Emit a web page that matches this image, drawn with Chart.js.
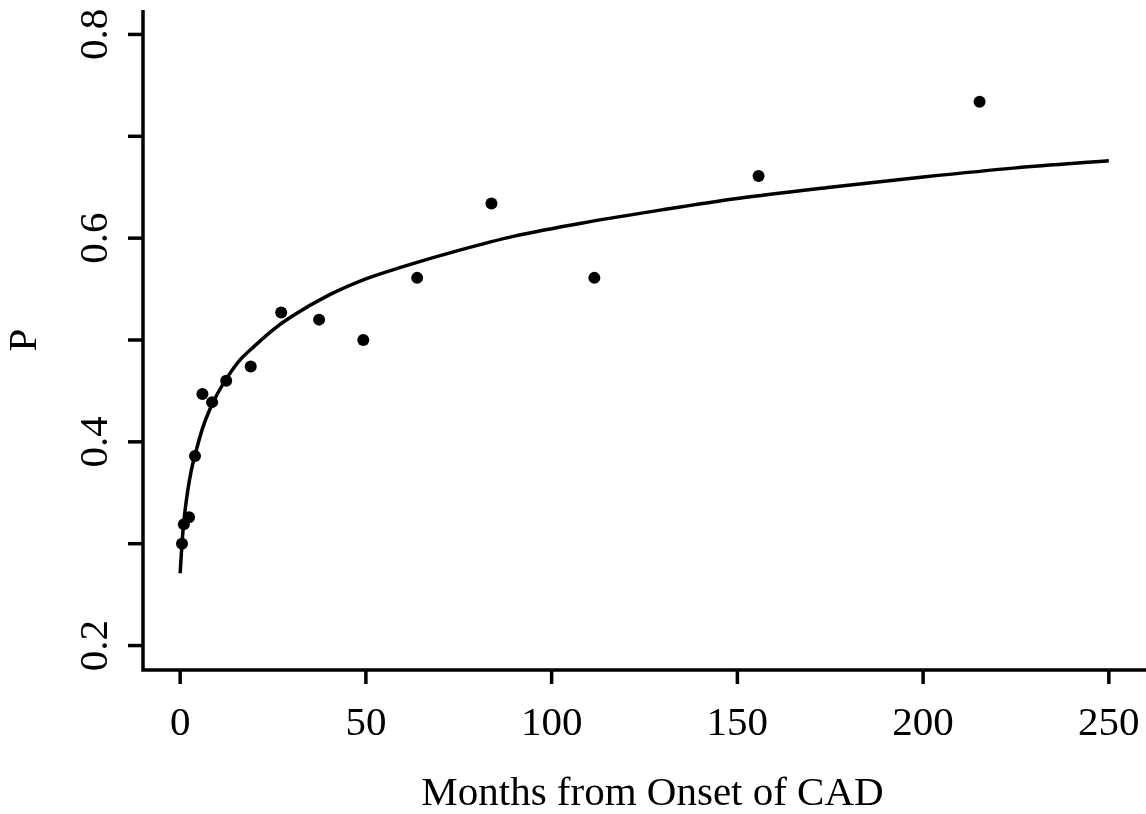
<!DOCTYPE html>
<html>
<head>
<meta charset="utf-8">
<script src="https://cdn.jsdelivr.net/npm/chart.js@4.4.1/dist/chart.umd.min.js"></script>
<style>
  html, body { margin: 0; padding: 0; background: #fff; }
  canvas { display: block; }
</style>
</head>
<body>
<canvas id="grafico" width="1146" height="814"></canvas>
<script>
// Puntos observados (meses desde el inicio, proporción P)
const mesesObs = [0.5, 1, 2.4, 4, 6, 8.6, 12.4, 19, 27.2, 37.4, 49.3, 63.8, 83.8, 111.5, 155.7, 215.2];
const pObs = [0.300, 0.319, 0.326, 0.386, 0.447, 0.439, 0.460, 0.474, 0.527, 0.520, 0.500, 0.561, 0.634, 0.561, 0.661, 0.734];

// Curva ajustada
const mesesCurva = [0, 0.5, 1, 2, 3, 4, 6, 8, 10, 13, 16, 20, 25, 30, 40, 50, 60, 75, 90, 110, 130, 150, 175, 200, 225, 250];
const pCurva = [0.271, 0.300, 0.322, 0.351, 0.372, 0.387, 0.413, 0.432, 0.447, 0.465, 0.480, 0.494, 0.510, 0.523, 0.544, 0.560, 0.572, 0.588, 0.602, 0.616, 0.628, 0.639, 0.650, 0.660, 0.669, 0.676];

// Marcas de los ejes
const ticksX = [0, 50, 100, 150, 200, 250];
const ticksY = [0.2, 0.3, 0.4, 0.5, 0.6, 0.7, 0.8];
const etiquetasY = [0.2, 0.4, 0.6, 0.8];

const fuente = '41px "Liberation Serif", "Times New Roman", serif';

// Plugin que dibuja los ejes al estilo de R
const ejesR = {
  id: 'ejesR',
  afterDraw(chart) {
    const ctx = chart.ctx;
    const sx = chart.scales.x;
    const sy = chart.scales.y;
    const area = chart.chartArea;
    ctx.save();
    ctx.strokeStyle = '#000';
    ctx.fillStyle = '#000';
    ctx.lineWidth = 3.5;
    ctx.lineCap = 'butt';

    // caja en forma de L
    ctx.beginPath();
    ctx.moveTo(area.left, area.top);
    ctx.lineTo(area.left, area.bottom);
    ctx.lineTo(area.right, area.bottom);
    ctx.stroke();

    // marcas eje X
    ctx.font = fuente;
    ctx.textAlign = 'center';
    ctx.textBaseline = 'middle';
    ticksX.forEach(v => {
      const px = sx.getPixelForValue(v);
      ctx.beginPath();
      ctx.moveTo(px, area.bottom);
      ctx.lineTo(px, area.bottom + 14);
      ctx.stroke();
      ctx.fillText(String(v), px, area.bottom + 54);
    });

    // marcas eje Y
    ticksY.forEach(v => {
      const py = sy.getPixelForValue(v);
      ctx.beginPath();
      ctx.moveTo(area.left, py);
      ctx.lineTo(area.left - 15, py);
      ctx.stroke();
    });
    etiquetasY.forEach(v => {
      const py = sy.getPixelForValue(v);
      ctx.save();
      ctx.translate(area.left - 47, py);
      ctx.rotate(-Math.PI / 2);
      ctx.fillText(v.toFixed(1), 0, 0);
      ctx.restore();
    });

    // títulos
    ctx.fillText('Months from Onset of CAD', (sx.getPixelForValue(0) + sx.getPixelForValue(250)) / 2 + 8, area.bottom + 124);
    ctx.save();
    ctx.translate(25, (area.top + area.bottom) / 2);
    ctx.rotate(-Math.PI / 2);
    ctx.fillText('P', 0, 0);
    ctx.restore();
    ctx.restore();
  }
};

const ctx = document.getElementById('grafico').getContext('2d');
new Chart(ctx, {
  type: 'scatter',
  data: {
    datasets: [
      {
        label: 'Observado',
        data: mesesObs.map((m, i) => ({ x: m, y: pObs[i] })),
        backgroundColor: '#000',
        borderColor: '#000',
        pointRadius: 6,
        pointBorderWidth: 0,
        showLine: false
      },
      {
        label: 'Ajuste',
        data: mesesCurva.map((m, i) => ({ x: m, y: pCurva[i] })),
        borderColor: '#000',
        borderWidth: 3.5,
        pointRadius: 0,
        showLine: true,
        fill: false,
        cubicInterpolationMode: 'monotone'
      }
    ]
  },
  options: {
    responsive: false,
    animation: false,
    devicePixelRatio: 1,
    layout: { autoPadding: false, padding: { left: 143, top: 10, right: 0, bottom: 144 } },
    plugins: { legend: { display: false }, tooltip: { enabled: false } },
    scales: {
      x: { type: 'linear', min: -10, max: 260, display: false },
      y: { type: 'linear', min: 0.176, max: 0.824, display: false }
    }
  },
  plugins: [ejesR]
});
</script>
</body>
</html>
